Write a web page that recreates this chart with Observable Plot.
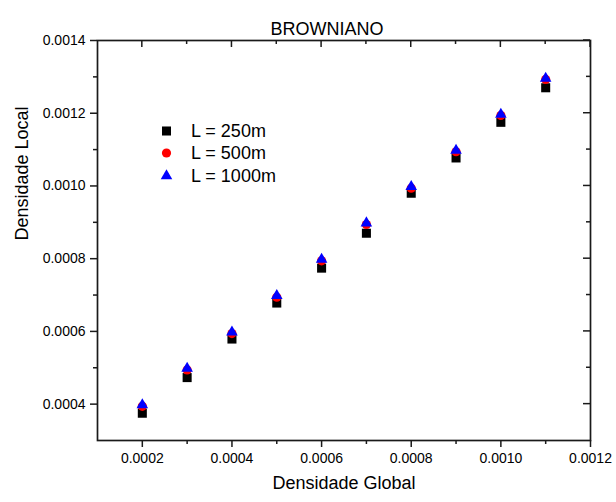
<!DOCTYPE html>
<html>
<head>
<meta charset="utf-8">
<script src="https://cdn.jsdelivr.net/npm/d3@7"></script>
<script src="https://cdn.jsdelivr.net/npm/@observablehq/plot@0.6"></script>
<style>
  html, body { margin: 0; padding: 0; background: #fff; }
  #wrap { position: relative; width: 616px; height: 502px; font-family: "Liberation Sans", Arial, sans-serif; }
  #overlay { position: absolute; left: 0; top: 0; pointer-events: none; }
</style>
</head>
<body>
<div id="wrap"></div>
<script>
const title = "BROWNIANO";
const xLabel = "Densidade Global";
const yLabel = "Densidade Local";
const densidadeGlobal = [0.0002, 0.0003, 0.0004, 0.0005, 0.0006, 0.0007, 0.0008, 0.0009, 0.0010, 0.0011];
const l250 = [0.000375, 0.000473, 0.000579, 0.000678, 0.000774, 0.000870, 0.000980, 0.001077, 0.001175, 0.001270];
const l500 = [0.000394, 0.000494, 0.000594, 0.000694, 0.000794, 0.000894, 0.000994, 0.001094, 0.001194, 0.001293];
const l1000 = [0.000398, 0.000498, 0.000598, 0.000698, 0.000798, 0.000898, 0.000998, 0.001098, 0.001197, 0.001296];
const seriesNames = ["L = 250m", "L = 500m", "L = 1000m"];
const seriesSymbols = ["square", "circle", "triangle"];
const seriesColors = ["#000000", "#ff0000", "#0000ff"];
const xMajor = [0.0002, 0.0004, 0.0006, 0.0008, 0.0010, 0.0012];
const xMinor = [0.0003, 0.0005, 0.0007, 0.0009, 0.0011];
const yMajor = [0.0004, 0.0006, 0.0008, 0.0010, 0.0012, 0.0014];
const yMinor = [0.0005, 0.0007, 0.0009, 0.0011, 0.0013];

const seriesValues = [l250, l500, l1000];
const rows = [];
seriesValues.forEach((vals, s) => vals.forEach((v, i) => rows.push({x: densidadeGlobal[i], y: v, s})));

const fmt = d3.format(".4f");
const blank = () => "";
const axisColor = "#1a1a1a";
const sizes = [5.1, 4.6, 4.3];
const tw = 1.5;

const W = 616, H = 502, mL = 97, mR = 26, mT = 40, mB = 62;
const major = 7, minor = 4;

const chart = Plot.plot({
  width: W,
  height: H,
  marginLeft: mL,
  marginRight: mR,
  marginTop: mT,
  marginBottom: mB,
  style: {fontFamily: "'Liberation Sans', Arial, sans-serif", fontSize: "14px", color: "#000", background: "#fff"},
  x: {domain: [0.0001, 0.0012]},
  y: {domain: [0.0003, 0.0014]},
  marks: [
    Plot.frame({stroke: axisColor, fill: "none", strokeWidth: 1.7}),
    Plot.axisX(xMajor, {anchor: "bottom", tickSize: major, tickPadding: 6, tickFormat: fmt, label: null, stroke: axisColor, strokeWidth: tw, fill: "#000"}),
    Plot.axisX(xMinor, {anchor: "bottom", tickSize: minor, tickFormat: blank, label: null, stroke: axisColor, strokeWidth: tw}),
    Plot.axisY(yMajor, {anchor: "left", tickSize: major, tickPadding: 5, tickFormat: fmt, label: null, stroke: axisColor, strokeWidth: tw, fill: "#000"}),
    Plot.axisY(yMinor, {anchor: "left", tickSize: minor, tickFormat: blank, label: null, stroke: axisColor, strokeWidth: tw}),
    ...[0, 1, 2].map(s => Plot.dot(rows.filter(d => d.s === s), {
      x: "x", y: "y", symbol: () => seriesSymbols[s], r: sizes[s], fill: seriesColors[s], stroke: null
    })),
    Plot.text([title], {frameAnchor: "top", dy: -18, dx: -17, fontSize: 18, fill: "#000"}),
    Plot.text([xLabel], {frameAnchor: "bottom", dy: 48, fontSize: 18, fill: "#000"}),
    Plot.text([yLabel], {frameAnchor: "left", dx: -75, rotate: -90, fontSize: 18, fill: "#000"})
  ]
});

const wrap = document.getElementById("wrap");
wrap.appendChild(chart);

// Scales taken from the Plot chart (inward ticks on the top and right edges)
const sx = chart.scale("x"), sy = chart.scale("y");
const xs = d3.scaleLinear(sx.domain, sx.range);
const ys = d3.scaleLinear(sy.domain, sy.range);
const topY = Math.min(...sy.range);
const rightX = Math.max(...sx.range);

const ns = "http://www.w3.org/2000/svg";
const ov = document.createElementNS(ns, "svg");
ov.setAttribute("id", "overlay");
ov.setAttribute("width", W);
ov.setAttribute("height", H);

function line(x1, y1, x2, y2) {
  const l = document.createElementNS(ns, "line");
  l.setAttribute("x1", x1); l.setAttribute("y1", y1);
  l.setAttribute("x2", x2); l.setAttribute("y2", y2);
  l.setAttribute("stroke", axisColor);
  l.setAttribute("stroke-width", tw);
  ov.appendChild(l);
}
xMajor.forEach(v => line(xs(v), topY, xs(v), topY + major));
xMinor.forEach(v => line(xs(v), topY, xs(v), topY + minor));
yMajor.forEach(v => line(rightX, ys(v), rightX - major, ys(v)));
yMinor.forEach(v => line(rightX, ys(v), rightX - minor, ys(v)));

// Legend
const symTypes = {square: d3.symbolSquare, circle: d3.symbolCircle, triangle: d3.symbolTriangle};
const legY = [131, 153, 176];
seriesNames.forEach((name, i) => {
  const r = sizes[i];
  const p = document.createElementNS(ns, "path");
  p.setAttribute("d", d3.symbol(symTypes[seriesSymbols[i]], r * r * Math.PI)());
  p.setAttribute("transform", `translate(166.5,${legY[i]})`);
  p.setAttribute("fill", seriesColors[i]);
  ov.appendChild(p);
  const t = document.createElementNS(ns, "text");
  t.setAttribute("x", 191);
  t.setAttribute("y", legY[i]);
  t.setAttribute("dy", "0.35em");
  t.setAttribute("font-size", "18px");
  t.setAttribute("font-family", "'Liberation Sans', Arial, sans-serif");
  t.textContent = name;
  ov.appendChild(t);
});
wrap.appendChild(ov);
</script>
</body>
</html>
